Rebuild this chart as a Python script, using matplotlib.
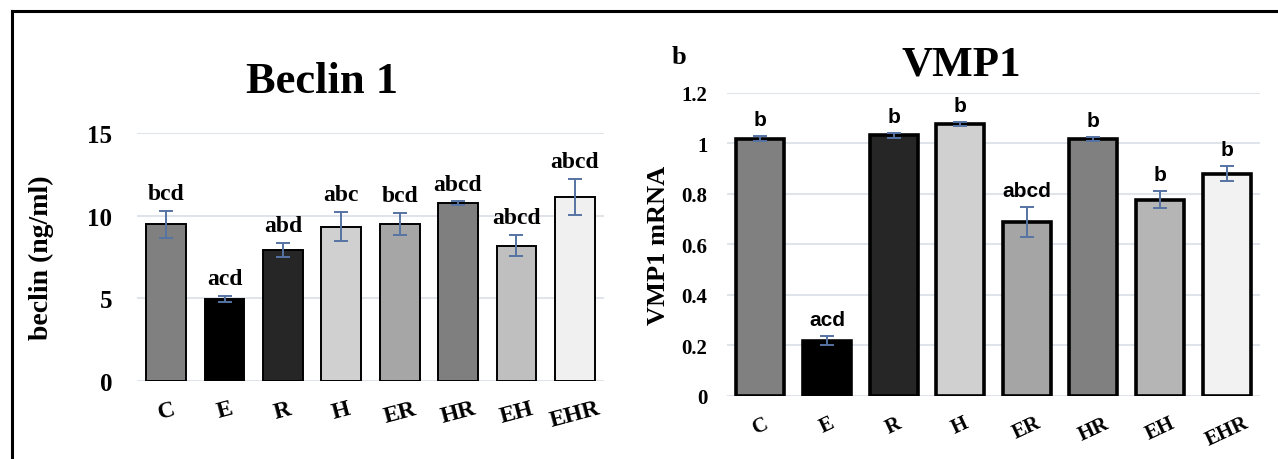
import numpy as np
import matplotlib; matplotlib.use("Agg"); import matplotlib.pyplot as plt
from matplotlib.lines import Line2D

groups = ["C", "E", "R", "H", "ER", "HR", "EH", "EHR"]
# Beclin 1 (ng/ml)
beclin = [9.48, 4.96, 7.93, 9.34, 9.48, 10.74, 8.19, 11.14]
beclin_err = [0.80, 0.17, 0.40, 0.86, 0.66, 0.12, 0.65, 1.07]
beclin_sig = ["bcd", "acd", "abd", "abc", "bcd", "abcd", "abcd", "abcd"]
beclin_col = ["#808080", "#000000", "#262626", "#d0d0d0", "#a6a6a6", "#7f7f7f", "#bfbfbf", "#f0f0f0"]
# VMP1 mRNA
vmp1 = [1.019, 0.218, 1.032, 1.078, 0.690, 1.019, 0.778, 0.881]
vmp1_err = [0.010, 0.018, 0.010, 0.008, 0.060, 0.008, 0.033, 0.030]
vmp1_sig = ["b", "acd", "b", "b", "abcd", "b", "b", "b"]
vmp1_col = ["#808080", "#000000", "#262626", "#d0d0d0", "#a5a5a5", "#808080", "#b5b5b5", "#f2f2f2"]

SERIF = "Liberation Serif"; SANS = "Liberation Sans"
GRID = "#dce0e8"; ERRC = "#5573a3"

fig = plt.figure(figsize=(12.78, 4.6), dpi=100)
# outer frame (top + left only)
fig.add_artist(Line2D([0.009, 1.0], [0.974, 0.974], color="black", lw=2.2, transform=fig.transFigure))
fig.add_artist(Line2D([0.009, 0.009], [0.0, 0.974], color="black", lw=2.2, transform=fig.transFigure))

def panel(ax, vals, errs, sig, cols, ylim, yticks, ytl, ylabel, edge_lw, width, sigfont, sigsize, tick_fs, xfs, xrot, yl_fs, lpad, ypad):
    x = np.arange(len(groups))
    for t in yticks:
        ax.axhline(t, color=GRID, lw=1.3, zorder=0)
    ax.bar(x, vals, width=width, color=cols, edgecolor="black", linewidth=edge_lw, zorder=2)
    ax.errorbar(x, vals, yerr=errs, fmt="none", ecolor=ERRC, elinewidth=1.4, capsize=5, capthick=1.4, zorder=3)
    for xi, v, e, s in zip(x, vals, errs, sig):
        ax.annotate(s, (xi, v + e), xytext=(0, 5), textcoords="offset points", ha="center", va="bottom",
                    fontsize=sigsize, fontweight="bold", family=sigfont, annotation_clip=False)
    ax.set_ylim(*ylim); ax.set_xlim(-0.5, len(groups) - 0.5)
    ax.set_yticks(yticks)
    ax.set_yticklabels(ytl, fontsize=tick_fs, fontweight="bold", family=SERIF)
    ax.set_xticks(x)
    ax.set_xticklabels(groups, fontsize=xfs, fontweight="bold", family=SERIF, rotation=xrot)
    ax.tick_params(axis="y", length=0, pad=ypad)
    ax.tick_params(axis="x", length=0, pad=12)
    for sp in ax.spines.values(): sp.set_visible(False)
    ax.set_ylabel(ylabel, fontsize=yl_fs, fontweight="bold", family=SERIF, labelpad=lpad)

ax1 = fig.add_axes([0.1072, 0.1696, 0.3654, 0.539])
panel(ax1, beclin, beclin_err, beclin_sig, beclin_col, (0, 15), [0, 5, 10, 15], ["0", "5", "10", "15"],
      "beclin (ng/ml)", 1.4, 0.68, SERIF, 17, 18, 17, 15, 20, 24, 18)
fig.text(322 / 1278, 1 - 82 / 460, "Beclin 1", fontsize=32, fontweight="bold", family=SERIF, ha="center", va="center")

ax2 = fig.add_axes([0.5689, 0.1370, 0.417, 0.6587])
panel(ax2, vmp1, vmp1_err, vmp1_sig, vmp1_col, (0, 1.2), [0, 0.2, 0.4, 0.6, 0.8, 1.0, 1.2],
      ["0", "0.2", "0.4", "0.6", "0.8", "1", "1.2"], "VMP1 mRNA", 2.6, 0.72, SANS, 15, 15, 15, 25, 19, 8, 14)
fig.text(961 / 1278, 1 - 66 / 460, "VMP1", fontsize=31, fontweight="bold", family=SERIF, ha="center", va="center")
fig.text(679 / 1278, 1 - 57 / 460, "b", fontsize=19, fontweight="bold", family=SERIF, ha="center", va="center")

plt.savefig("out.png", dpi=100)
